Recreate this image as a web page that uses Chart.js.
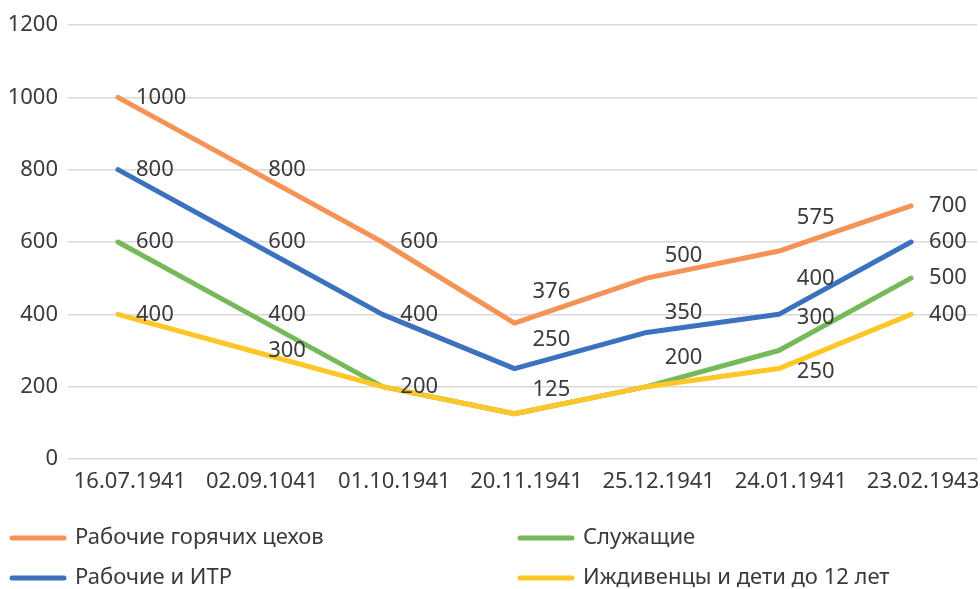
<!DOCTYPE html>
<html lang="ru">
<head>
    <meta charset="UTF-8">
    <title>Нормы выдачи хлеба</title>
    <style>
        html, body { margin: 0; padding: 0; background: #fff; }
        .wrap { width: 980px; height: 589px; }
    </style>
    <script src="https://cdn.jsdelivr.net/npm/chart.js"></script>
</head>
<body>
    <div class="wrap">
        <canvas id="myChart" width="980" height="589"></canvas>
    </div>

    <script>
        // dates along the x axis
        const dates = ['16.07.1941', '02.09.1041', '01.10.1941', '20.11.1941', '25.12.1941', '24.01.1941', '23.02.1943'];

        // series values
        const hotShops = [1000, 800, 600, 376, 500, 575, 700];
        const workersItr = [800, 600, 400, 250, 350, 400, 600];
        const clerks = [600, 400, 200, 125, 200, 300, 500];
        const dependants = [400, 300, 200, 125, 200, 250, 400];

        const seriesNames = ['Рабочие горячих цехов', 'Рабочие и ИТР', 'Служащие', 'Иждивенцы и дети до 12 лет'];

        const yTicks = [0, 200, 400, 600, 800, 1000, 1200];

        const textColor = '#3a3a3a';
        const fontFamily = '"Noto Sans", "Open Sans", sans-serif';
        const fontSize = 22;

        const toPoints = arr => arr.map((v, i) => ({ x: i, y: v }));

        function lineSet(name, values, color, order, labelDy) {
            return {
                label: name,
                data: toPoints(values),
                borderColor: color,
                backgroundColor: color,
                borderWidth: 5,
                borderCapStyle: 'round',
                borderJoinStyle: 'round',
                pointRadius: 0,
                tension: 0,
                fill: false,
                order: order,
                labelDy: labelDy
            };
        }

        // value labels, drawn right of each point (some lifted up a bit)
        const valueLabels = {
            id: 'valueLabels',
            afterDatasetsDraw(chart) {
                const ctx = chart.ctx;
                ctx.save();
                ctx.font = fontSize + 'px ' + fontFamily;
                ctx.fillStyle = textColor;
                ctx.textAlign = 'left';
                ctx.textBaseline = 'middle';
                chart.data.datasets.forEach((ds, di) => {
                    const meta = chart.getDatasetMeta(di);
                    meta.data.forEach((pt, j) => {
                        const v = ds.data[j].y;
                        // skip if an earlier series already shows the same value here
                        for (let k = 0; k < di; k++) {
                            if (chart.data.datasets[k].data[j].y === v) return;
                        }
                        const dy = ds.labelDy ? ds.labelDy[j] : 0;
                        ctx.fillText(String(v), pt.x + 18, pt.y + dy);
                    });
                });
                ctx.restore();
            }
        };

        // legend in two columns under the plot
        const twoColLegend = {
            id: 'twoColLegend',
            afterDraw(chart) {
                const ctx = chart.ctx;
                const cols = [10, 518];
                const rows = [538, 578];
                ctx.save();
                ctx.font = fontSize + 'px ' + fontFamily;
                ctx.textBaseline = 'middle';
                ctx.textAlign = 'left';
                chart.data.datasets.forEach((ds, i) => {
                    const x = cols[Math.floor(i / 2)];
                    const y = rows[i % 2];
                    ctx.strokeStyle = ds.borderColor;
                    ctx.lineWidth = 5;
                    ctx.lineCap = 'round';
                    ctx.beginPath();
                    ctx.moveTo(x + 2, y);
                    ctx.lineTo(x + 54, y);
                    ctx.stroke();
                    ctx.fillStyle = textColor;
                    ctx.fillText(ds.label, x + 65, y);
                });
                ctx.restore();
            }
        };

        const ctx = document.getElementById('myChart').getContext('2d');
        const myChart = new Chart(ctx, {
            type: 'line',
            data: {
                datasets: [
                    lineSet(seriesNames[0], hotShops, 'rgb(245,146,86)', 4, [0, 0, 0, -31, -22, -33, 0]),
                    lineSet(seriesNames[1], workersItr, 'rgb(60,113,190)', 3, [0, 0, 0, -29, -20, -36, 0]),
                    lineSet(seriesNames[2], clerks, 'rgb(118,185,91)', 2, [0, 0, 0, -24, -29, -33, 0]),
                    lineSet(seriesNames[3], dependants, 'rgb(255,198,40)', 1, [0, 0, 0, 0, 0, 3, 0])
                ]
            },
            options: {
                responsive: false,
                animation: false,
                layout: { padding: { top: 25, right: 3, left: 0, bottom: 0 } },
                plugins: {
                    legend: { display: false },
                    tooltip: { enabled: false }
                },
                scales: {
                    x: {
                        type: 'linear',
                        min: -0.378,
                        max: 6.499,
                        grid: { display: false },
                        border: { display: false },
                        afterFit(scale) { scale.height = 130; },
                        afterBuildTicks(scale) {
                            scale.ticks = dates.map((d, i) => ({ value: i }));
                        },
                        ticks: {
                            padding: 2,
                            labelOffset: 12,
                            maxRotation: 0,
                            autoSkip: false,
                            color: textColor,
                            font: { family: fontFamily, size: fontSize },
                            callback: v => dates[v]
                        }
                    },
                    y: {
                        min: 0,
                        max: 1200,
                        afterFit(scale) { scale.width = 68; },
                        afterBuildTicks(scale) {
                            scale.ticks = yTicks.map(v => ({ value: v }));
                        },
                        grid: { color: '#d9d9d9', lineWidth: 1.5, drawTicks: false },
                        border: { display: false },
                        ticks: {
                            padding: 10,
                            color: textColor,
                            font: { family: fontFamily, size: fontSize },
                            callback: v => String(v)
                        }
                    }
                }
            },
            plugins: [valueLabels, twoColLegend]
        });
    </script>
</body>
</html>
